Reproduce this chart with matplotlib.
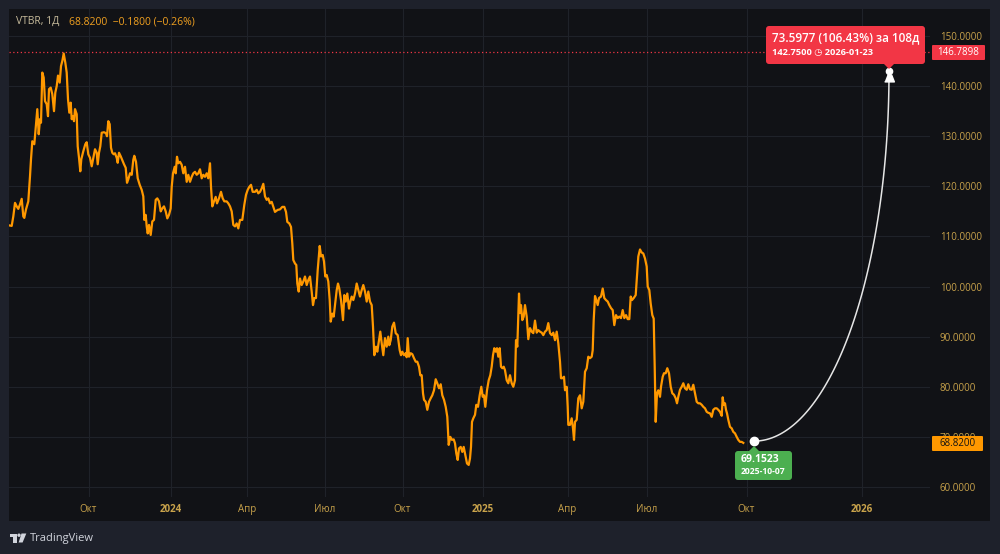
import numpy as np
import matplotlib
matplotlib.use("Agg")
import matplotlib.pyplot as plt
from matplotlib.patches import Rectangle, FancyBboxPatch, Polygon, Circle
from matplotlib.transforms import IdentityTransform

# ---------------- data ----------------
ticker = "VTBR, 1Д"
last_close = 68.82
change = -0.18
change_pct = -0.26
high_level = 146.7898

# time-scale positions of the daily bars and their closes
bar_pos = [9.3, 11.7, 13.3, 15, 16.7, 18.3, 20, 21.7, 23.3, 24.3, 26, 28.3, 30, 31, 32.3, 34.3, 36, 37.3,
           38.7, 40, 41, 42.3, 43.7, 45, 46.7, 48, 49, 50.7, 52.3, 54, 55.3, 56.7, 58, 59.7, 61, 62.3,
           63.7, 65.3, 66.7, 68, 69.3, 70.7, 71.7, 73, 74, 75, 76.7, 77.7, 79, 80.3, 81.3, 83.3, 85.3,
           86.7, 88.3, 90, 91.7, 93.3, 95, 96.7, 97.7, 99, 100.3, 101.7, 104, 106, 107, 108.3, 109.7,
           111, 112.3, 113.7, 115, 116.7, 117.7, 119, 120.7, 122.3, 124, 125.7, 127, 128.3,
           130, 131.7, 133.3, 134.3, 136, 137.7, 139.7, 141.7, 143.3, 144.3, 145.7, 146.7, 147.7, 149,
           150.7, 152.3, 154, 155.7, 157.3, 159, 160.7, 162.3, 164, 165.7, 167.3, 169, 170.7, 171.7,
           173, 174.7, 175.7, 177, 178.3, 180, 181.7, 183.3, 185, 186.7, 188.3, 190, 191.7, 193.3,
           195, 196.7, 198.3, 200, 201.7, 203.3, 205, 206.7, 208.3, 210, 211, 212.3, 214, 215.7, 217,
           219, 221, 222.7, 224.3, 226.7, 228.3, 230, 231.7, 233.3, 235, 236.7, 238.3, 240, 242.3,
           244.3, 246, 247.7, 249.3, 251, 252.7, 255,
           256.7, 258.3, 260, 261.7, 263.3, 265, 266.7, 268.3, 270, 271.7, 273.3, 275, 277.7, 280,
           282.3, 284.3, 286, 287.3, 289.3, 291, 292.3, 293.3, 295, 296.3, 297.3, 298.7, 300, 301.7,
           303.3, 305, 306.7, 308.3, 310, 311.7, 313, 314.3, 316, 317.7, 319.7, 321, 322.7, 324,
           325.3, 326.7, 328.3, 329.7, 330.7, 332.3, 333.7, 335, 336.7, 338, 339.3, 341, 343, 344.3,
           345.7, 347.3, 349, 350.3, 351.7, 353.3, 355, 356.7, 358.3, 360, 361.7, 363.3, 365, 366.7,
           368.3, 370, 371.7, 373, 374.3, 376, 377.3, 379, 380.3, 381.7, 383.3, 385, 386.7,
           388.3, 389.3, 390.7, 392.3, 394, 395.7, 397.7, 399.7, 401, 402.3, 404, 405.7, 406.7, 407.7,
           409, 410.7, 412.3, 414, 415.7, 417.3, 419, 420.3, 421.7, 423, 424, 425.7, 427.3, 429,
           430.7, 432.3, 434, 435.7, 437.3, 439, 440.7, 442.3, 444, 445.7, 447.3, 448.7, 450.3, 452,
           453.7, 455, 456.3, 457.7, 459, 460.7, 462.3, 463.7, 465.3, 467, 468.7, 470, 471, 472,
           473.3, 475, 476.3, 478, 479.7, 481.3, 482.7, 484, 485.3, 487, 488.7, 490.3, 491.7, 493,
           494.3, 495.7, 497, 498.3, 499.7, 501, 502.3, 503.7, 505, 506.7, 508.3, 510, 511.7, 513.3,
           515, 516, 517.3, 519, 520, 521, 522.3, 523.7, 525, 526.7, 528.3, 530, 531.7, 533.3, 535,
           536.7, 538.3, 540, 541.7, 543.3, 545, 546.7, 548.3, 550, 551.7, 553.3, 555, 556.7, 558.3,
           560, 561, 562.3, 564, 565, 566.7, 567.7, 568.3, 570, 571.7, 573, 574, 575, 576.7, 578.3,
           580, 581.7, 583.3, 585, 586.7, 588.3, 590, 591.7, 592.7, 593.7, 595, 596.3, 597.7, 599,
           601, 602.7, 604.3, 606, 607.7, 609.3, 611, 612.7, 614.3, 616, 617.7, 619.3, 621, 622.7,
           624.3, 626, 627.7, 629.3, 630.7, 632, 633.7, 635.7,
           636.7, 638.3, 640, 641.7, 643.3, 645, 646.7, 647.7, 649.3, 650.7, 652.3, 653.7, 654.7,
           655.7, 657, 658.3, 660, 661, 662.7, 664, 665.7, 667.3, 669, 670.7, 672.3, 674, 675.7,
           677, 678.3, 680, 681.7, 683.3, 685, 686.7, 688.3, 690, 691.7, 693.3, 695, 696.7, 698.3,
           700, 701.7, 703.3, 705, 706.7, 708.3, 710, 711.7, 713.3, 715, 716.7, 718.3, 720, 721.7,
           722.7, 723.7, 725, 726, 727, 728.3, 730, 731.7, 733.3, 735, 736.7, 738.3, 740, 741.7, 743.3]

close = [112.2, 112.1, 114, 116.7, 116, 115.5, 116.4, 117.5, 114, 113.7, 115.4, 117, 122, 125.4, 129,
         128.4, 132.4, 135.4, 130.4, 133.4, 132.7, 142.7, 141.7, 137, 136.4, 134, 139.4, 139.7, 138.4,
         135, 138.7, 140, 142.1, 140.7, 144, 145, 146.5, 144.7, 142.7, 137.4, 134.7, 136.7, 133.4,
         134, 133, 135.4, 134.4, 128, 125.7, 123, 125.4, 127, 128.4, 128.8, 126.4, 125.7, 124, 125.7,
         127.4, 126.7, 124.4, 126.7, 128, 130.7, 130.8, 130.6, 130, 133, 132.4, 127.7, 126.7, 126.4,
         126.6, 125.7, 124.7, 126.7, 126, 125.2, 124.4, 123.7, 120.7, 121.4,
         122.6, 122.3, 125.3, 126.1, 124.9, 121.6, 120.3, 119.3, 118, 113.3, 114.3, 112, 110.6, 112.3,
         110.3, 113, 113.3, 117.3, 117.6, 117, 115, 115.6, 116, 115, 113.6, 114.3, 115.6, 119.9,
         122.6, 123.9, 122.6, 125.9, 124.6, 124.9, 124.3, 122.6, 123.9, 120.9, 122.3, 120.9, 121.9,
         122.6, 122.9, 122.3, 122.6, 123.4, 121.6, 122.3, 121.9, 122.6, 121.6, 124.6, 119.9, 116,
         117, 117.9, 116.6, 117.6, 118.9, 117.6, 117, 117, 116.6, 116, 115, 112.3, 112, 112.6, 111.6,
         113.3, 113.3, 116.3, 118.3, 119.3, 119.9, 120.3, 118.9, 118.9,
         119.3, 118.6, 118.9, 119.6, 120.5, 118, 117.3, 117.6, 116.6, 116.9, 115.9, 114.9, 115.3,
         115.4, 115.9, 115.9, 114.9, 112.9, 112.6, 111.9, 108.6, 105.3, 104.6, 104.3, 100.6, 99,
         101.6, 100.3, 101, 102, 100.3, 101.3, 102, 99, 96.3, 97.7, 97.7, 103.3, 108.1, 106, 106.3,
         105, 102, 102.3, 101, 97.3, 93, 94.6, 94, 96.3, 99.3, 100.6, 99.6, 97.3, 93.3, 98.3, 97,
         98.6, 95.6, 97, 98, 97.3, 98.6, 100.6, 99.3, 98, 99.3, 100.3, 99, 97, 99, 97, 96.3, 92,
         86.3, 88, 87, 89.3, 91, 88.7, 86.3, 89.7, 88,
         90, 88.3, 89.3, 92, 92.8, 90.7, 90.3, 87.3, 86.3, 87, 86.3, 86.7, 85.9, 89.7, 86, 86.7,
         86.5, 85.7, 85, 85, 84, 82.3, 82.3, 78.7, 77.4, 77, 75.4, 77, 77.7, 78.3, 79.3, 81.5, 80.7,
         79.7, 80.5, 78.3, 77.4, 76, 74, 68.4, 70, 69.4, 69.5, 68.7, 66.7, 65.4, 67.7, 68, 67, 68,
         66.4, 64.7, 64.4, 65.7, 68, 73, 73.7, 74.4, 76.4, 76, 78.3, 80, 78, 78.3, 76, 79.3, 81.3,
         82.3, 84, 86.3, 87.7, 87, 87.7, 86, 87.7, 84, 83.7, 84, 83.3, 81.3, 80.7, 82.3, 80.7, 80,
         81.3, 89.3, 88, 98.6, 94.7, 96.3, 93.3, 94, 96.3, 94, 89.5, 91.7, 91, 90.7, 93.2, 90.8,
         91.3, 91, 90.8, 90.3, 91, 91.3, 92.7, 90.7, 90.3, 90.8, 89.3, 91, 88.7, 85, 81.7, 81.7,
         82, 79.3, 80, 76, 72.4, 72.4, 73.7, 71.7, 69.4, 73, 73.4, 77.7, 78.3, 75.7, 77, 83, 83.7,
         86, 85.7, 86, 87.3, 93.3, 98.1, 97.3, 96.3, 97.7, 98, 99.6, 97.7, 97.3, 97, 96.3, 95.7,
         95.3, 92.3, 94.3, 93.7, 94, 93.7, 95.3, 93.7, 94.3, 93.5, 93.5, 98, 97.3, 97.7, 98.3,
         101.3, 106, 107.4, 106.8, 106.6, 105.6, 104, 100, 99.3, 96.6, 94.3, 93.6, 84, 73, 78.7,
         79.3, 78, 80, 82, 82.7, 82.7, 83.7, 82.7, 80, 78.7, 78.4, 77.7, 76.7, 78, 79.4, 80, 80.7,
         79.7, 79.4, 80.5, 79.5, 79.4, 80.4, 78.7, 77, 76.7, 76.7, 76.4, 76, 75.7, 75, 74.8, 74.7,
         74, 75.4, 75.7, 75.7, 75.4, 75, 74.2, 77.9, 76.4, 76.7, 75.4, 74.7, 73.4, 72, 71.7, 71,
         70.7, 70, 69.4, 69, 69, 68.8]

tick_pos = [88.5, 170.5, 247, 325, 402.5, 482.5, 567.5, 647, 746.5, 861.5]
tick_labels = ["Окт", "2024", "Апр", "Июл", "Окт", "2025", "Апр", "Июл", "Окт", "2026"]
price_ticks = [60, 70, 80, 90, 100, 110, 120, 130, 140, 150]

proj_start_pos, proj_start_price, proj_start_date = 754, 69.1523, "2025-10-07"
proj_end_pos, proj_end_price, proj_end_date = 889, 142.75, "2026-01-23"
proj_days = 108

# ---------------- style ----------------
W, H = 1000, 554
OUTER = "#1e212b"
PANE = "#111216"
GRID = "#1f2229"
LINE = "#ff9800"
AXTXT = "#c9a34b"
RED = "#f23645"
GREEN = "#4caf50"
FONT = ["Open Sans", "DejaVu Sans"]

plt.rcParams["font.family"] = FONT

fig = plt.figure(figsize=(W / 100, H / 100), dpi=100)
fig.patch.set_facecolor(OUTER)


def fx(x):
    return x / W


def fy(y):
    return 1 - y / H


# chart pane background
fig.add_artist(Rectangle((fx(9), fy(521)), (990 - 9) / W, (521 - 9) / H,
                         transform=fig.transFigure, facecolor=PANE, edgecolor="none", zorder=0))

ax = fig.add_axes([fx(9), fy(497), (930 - 9) / W, (497 - 9) / H])
ax.set_facecolor(PANE)
for s in ax.spines.values():
    s.set_visible(False)

ax.set_xlim(9, 930)
ax.set_ylim(58.0, 155.39)

ax.set_xticks(tick_pos)
ax.set_xticklabels(tick_labels)
for lab in ax.get_xticklabels():
    lab.set_color(AXTXT)
    lab.set_fontsize(7)
    if lab.get_text().isdigit():
        lab.set_fontweight("bold")
ax.tick_params(axis="x", length=0, pad=5)

ax.yaxis.tick_right()
ax.set_yticks(price_ticks)
ax.set_yticklabels([f"{v:.4f}" for v in price_ticks])
ax.tick_params(axis="y", length=0, pad=7, labelsize=7, labelcolor=AXTXT)

ax.grid(True, color=GRID, linewidth=0.8)
ax.set_axisbelow(True)

# price line
ax.plot(bar_pos, close, color=LINE, linewidth=1.6, solid_joinstyle="round", zorder=3)

# high level dotted line
ax.axhline(high_level, color=RED, linewidth=0.9, linestyle=(0, (1, 2)), zorder=2)

# projection curve (quarter ellipse)
t = np.linspace(0, np.pi / 2, 120)
cx = proj_start_pos + (proj_end_pos - proj_start_pos) * np.sin(t)
cy = proj_end_price - (proj_end_price - proj_start_price) * np.cos(t)
ax.plot(cx, cy, color="#e6e6e6", linewidth=1.1, zorder=4)
ax.plot([proj_start_pos], [proj_start_price], marker="o", markersize=6,
        color="white", zorder=5)
# end pin icon
ax.plot([proj_end_pos], [proj_end_price + 0.3], marker="o", markersize=4.5, color="white", zorder=6)
ax.plot([proj_end_pos], [proj_end_price - 1.1], marker=[(-1, -0.7), (1, -0.7), (0.45, 0.7), (-0.45, 0.7)],
        markersize=7, color="white", zorder=6)

ID = IdentityTransform()


def box(x0, y0, x1, y1, color, r=3, z=10):
    p = FancyBboxPatch((x0, H - y1), x1 - x0, y1 - y0,
                       boxstyle=f"round,pad=0,rounding_size={r}",
                       transform=ID, facecolor=color, edgecolor="none", zorder=z)
    fig.add_artist(p)


def tri(pts, color, z=10):
    fig.add_artist(Polygon([(x, H - y) for x, y in pts], closed=True, transform=ID,
                           facecolor=color, edgecolor="none", zorder=z))


# red projection label
diff = proj_end_price - proj_start_price
pct = diff / proj_start_price * 100
box(766, 26, 925, 64, RED)
tri([(883, 63), (895, 63), (889, 69)], RED)
fig.text(fx(772), fy(38), f"{diff:.4f} ({pct:.2f}%) за {proj_days}д", color="white",
         fontsize=8.5, fontweight="semibold", va="center", ha="left", zorder=11)
fig.text(fx(772), fy(53), f"{proj_end_price:.4f} ◷ {proj_end_date}", color="white",
         fontsize=6.7, fontweight="bold", va="center", ha="left", zorder=11)

# green start label
box(735, 451, 792, 480, GREEN)
tri([(748, 452), (760, 452), (754, 446)], GREEN)
fig.text(fx(741), fy(460), f"{proj_start_price:.4f}", color="white",
         fontsize=7.5, fontweight="bold", va="center", ha="left", zorder=11)
fig.text(fx(741), fy(472), proj_start_date, color="white",
         fontsize=6.2, fontweight="bold", va="center", ha="left", zorder=11)

# price-axis labels
box(932, 45, 985, 60, RED, r=1)
fig.text(fx(958.5), fy(52.5), f"{high_level:.4f}", color="white", fontsize=7,
         va="center", ha="center", zorder=11)
box(932, 436, 983, 451, LINE, r=1)
fig.text(fx(957.5), fy(443.5), f"{last_close:.4f}", color="#141414", fontsize=7,
         va="center", ha="center", zorder=11)

# header
fig.text(fx(16), fy(21.5), ticker, color="#c8bc9c", fontsize=7.5, va="center", ha="left")
fig.text(fx(69), fy(21.5), f"{last_close:.4f}  \u2212{abs(change):.4f} (\u2212{abs(change_pct):.2f}%)",
         color="#f0a020", fontsize=7.5, va="center", ha="left")

# TradingView logo
LOGO = "#d1d4dc"
fig.add_artist(Rectangle((9.5, H - 536.5), 7, 3, transform=ID, facecolor=LOGO, edgecolor="none"))
fig.add_artist(Rectangle((13.2, H - 542.5), 3.3, 9, transform=ID, facecolor=LOGO, edgecolor="none"))
fig.add_artist(Circle((19.0, H - 535.2), 1.7, transform=ID, facecolor=LOGO, edgecolor="none"))
tri([(21.5, 533.5), (26.3, 533.5), (22.6, 542.5), (18.6, 542.5)], LOGO, z=2)
fig.text(fx(29.5), fy(538), "TradingView", color=LOGO, fontsize=8, va="center", ha="left")

fig.savefig("out.png", dpi=100, facecolor=OUTER)
